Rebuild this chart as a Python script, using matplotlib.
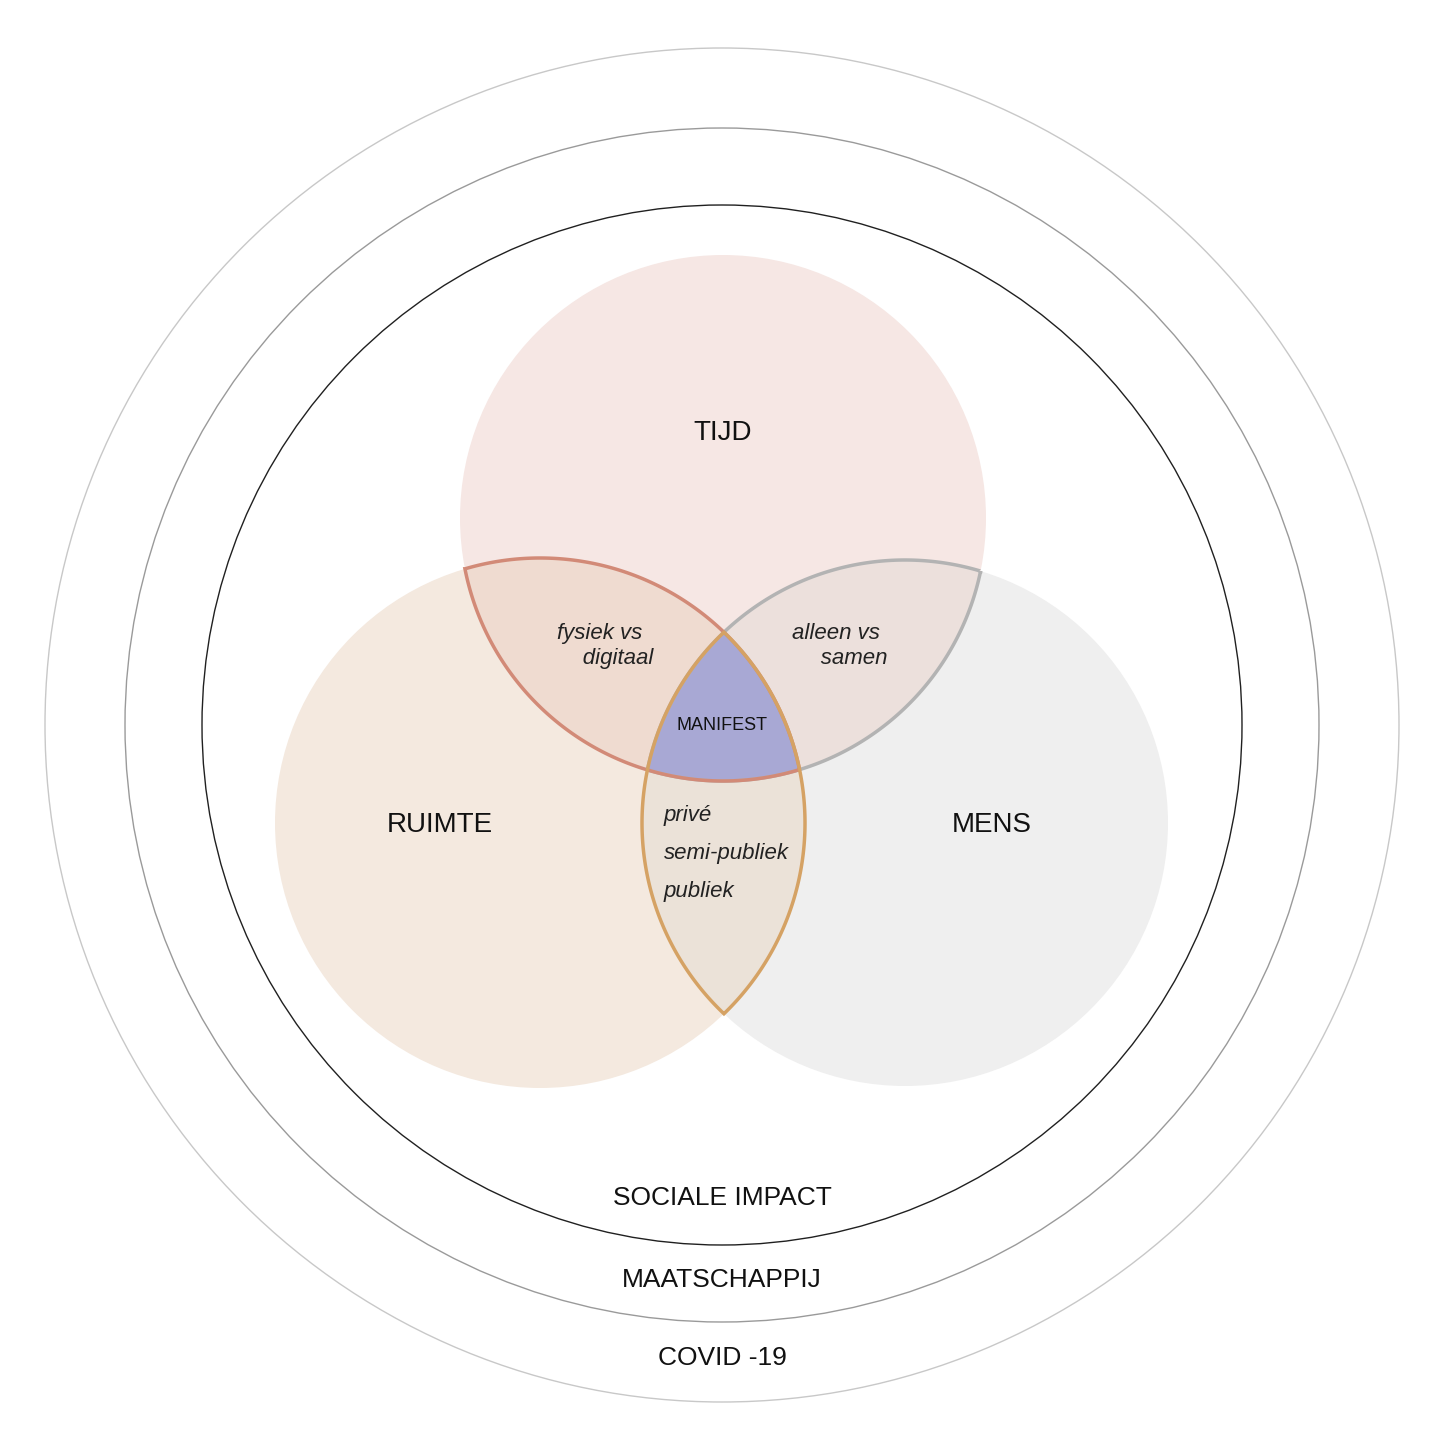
import numpy as np
import matplotlib
matplotlib.use("Agg")
import matplotlib.pyplot as plt
from matplotlib.patches import Circle, Polygon

plt.rcParams['font.family'] = ['Liberation Sans', 'DejaVu Sans']

# ring circles (pixel units)
ring_center = (722, 725)
ring_radii = [677, 597, 520]
ring_colors = ["#c8c8c8", "#9a9a9a", "#202020"]
ring_labels = ["COVID -19", "MAATSCHAPPIJ", "SOCIALE IMPACT"]
ring_label_y = [1358, 1280, 1198]

# venn circles
set_names = ["TIJD", "RUIMTE", "MENS"]
set_centers = [(723, 518), (540, 823), (905, 823)]
set_radii = [263, 265, 263]
set_colors = ["#f6e7e4", "#f4e9df", "#efefef"]
set_label_pos = [(723, 433), (440, 825), (992, 825)]

pair_ids = [(0, 2), (0, 1), (1, 2)]
pair_fill = ["#ece0dc", "#efdbd0", "#ebe2d8"]
pair_edge = ["#b3b3b3", "#d28a77", "#d5a264"]
pair_text_pos = [(836, 646), (600, 646)]
pair_texts = [["alleen vs", "      samen"], ["fysiek vs", "      digitaal"], ["privé", "semi-publiek", "publiek"]]
triple_fill = "#a8a8d4"


def lens(c1, r1, c2, r2, n=200):
    c1, c2 = np.array(c1, float), np.array(c2, float)
    d = np.linalg.norm(c2 - c1)
    a = (r1**2 - r2**2 + d**2) / (2 * d)
    h = np.sqrt(r1**2 - a**2)
    u = (c2 - c1) / d
    p = c1 + a * u
    perp = np.array([-u[1], u[0]])
    pts = [p + h * perp, p - h * perp]
    def arc(c, r, q1, q2):
        t1 = np.arctan2(q1[1] - c[1], q1[0] - c[0])
        t2 = np.arctan2(q2[1] - c[1], q2[0] - c[0])
        dt = (t2 - t1) % (2 * np.pi)
        if dt > np.pi:
            dt -= 2 * np.pi
        t = t1 + np.linspace(0, dt, n)
        return np.c_[c[0] + r * np.cos(t), c[1] + r * np.sin(t)]
    a1 = arc(c1, r1, pts[0], pts[1])
    a2 = arc(c2, r2, pts[1], pts[0])
    return np.vstack([a1, a2])


fig = plt.figure(figsize=(14.36, 14.36), dpi=100)
ax = fig.add_axes([0, 0, 1, 1])
ax.set_xlim(0, 1436)
ax.set_ylim(1436, 0)
ax.set_aspect("equal")
ax.axis("off")

for r, col in zip(ring_radii, ring_colors):
    ax.add_patch(Circle(ring_center, r, fill=False, ec=col, lw=1.0))

for c, r, col in zip(set_centers, set_radii, set_colors):
    ax.add_patch(Circle(c, r, fc=col, ec="none"))

lenses = []
for (i, j), fc in zip(pair_ids, pair_fill):
    poly = lens(set_centers[i], set_radii[i], set_centers[j], set_radii[j])
    lenses.append(poly)
    ax.add_patch(Polygon(poly, closed=True, fc=fc, ec="none"))

# triple intersection
clip = Polygon(lenses[1], closed=True, transform=ax.transData)
tri = Circle(set_centers[2], set_radii[2], fc=triple_fill, ec="none")
ax.add_patch(tri)
tri.set_clip_path(clip)

for poly, ec in zip(lenses, pair_edge):
    ax.add_patch(Polygon(poly, closed=True, fill=False, ec=ec, lw=2.5))

for name, (x, y) in zip(set_names, set_label_pos):
    ax.text(x, y, name, ha="center", va="center", fontsize=20, color="#111111")

ax.text(722, 725, "MANIFEST", ha="center", va="center", fontsize=13, color="#111111")

for (x, y), lines in zip(pair_text_pos, pair_texts[:2]):
    ax.text(x, y, "\n".join(lines), ha="center", va="center", fontsize=16,
            style="italic", color="#222222", linespacing=1.2)
for k, t in enumerate(pair_texts[2]):
    ax.text(664, 816 + 38 * k, t, ha="left", va="center", fontsize=16,
            style="italic", color="#222222")

for t, y in zip(ring_labels, ring_label_y):
    ax.text(722, y, t, ha="center", va="center", fontsize=19, color="#111111")

fig.savefig("out.png", dpi=100, facecolor="white")
